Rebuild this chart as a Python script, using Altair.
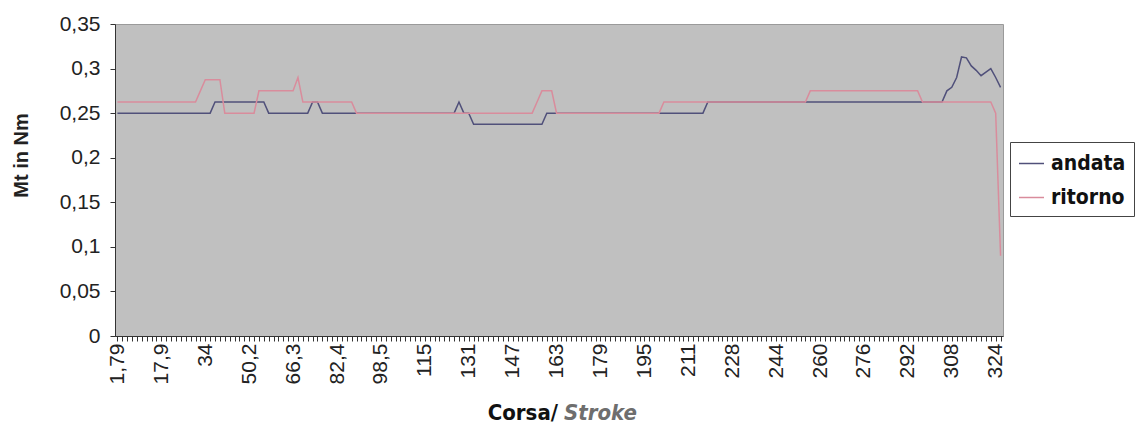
import json
import altair as alt
import pandas as pd

# Corsa index (category k -> stroke = 1.79 * k), 182 categories
N = 182

ANDATA = [
    0.25, 0.25, 0.25, 0.25, 0.25, 0.25, 0.25, 0.25, 0.25, 0.25,
    0.25, 0.25, 0.25, 0.25, 0.25, 0.25, 0.25, 0.25, 0.25, 0.25,
    0.2625, 0.2625, 0.2625, 0.2625, 0.2625, 0.2625, 0.2625, 0.2625, 0.2625, 0.2625,
    0.2625, 0.25, 0.25, 0.25, 0.25, 0.25, 0.25, 0.25, 0.25, 0.25,
    0.2625, 0.2625, 0.25, 0.25, 0.25, 0.25, 0.25, 0.25, 0.25, 0.25,
    0.25, 0.25, 0.25, 0.25, 0.25, 0.25, 0.25, 0.25, 0.25, 0.25,
    0.25, 0.25, 0.25, 0.25, 0.25, 0.25, 0.25, 0.25, 0.25, 0.25,
    0.2625, 0.25, 0.25, 0.2375, 0.2375, 0.2375, 0.2375, 0.2375, 0.2375, 0.2375,
    0.2375, 0.2375, 0.2375, 0.2375, 0.2375, 0.2375, 0.2375, 0.2375, 0.25, 0.25,
    0.25, 0.25, 0.25, 0.25, 0.25, 0.25, 0.25, 0.25, 0.25, 0.25,
    0.25, 0.25, 0.25, 0.25, 0.25, 0.25, 0.25, 0.25, 0.25, 0.25,
    0.25, 0.25, 0.25, 0.25, 0.25, 0.25, 0.25, 0.25, 0.25, 0.25,
    0.25, 0.2625, 0.2625, 0.2625, 0.2625, 0.2625, 0.2625, 0.2625, 0.2625, 0.2625,
    0.2625, 0.2625, 0.2625, 0.2625, 0.2625, 0.2625, 0.2625, 0.2625, 0.2625, 0.2625,
    0.2625, 0.2625, 0.2625, 0.2625, 0.2625, 0.2625, 0.2625, 0.2625, 0.2625, 0.2625,
    0.2625, 0.2625, 0.2625, 0.2625, 0.2625, 0.2625, 0.2625, 0.2625, 0.2625, 0.2625,
    0.2625, 0.2625, 0.2625, 0.2625, 0.2625, 0.2625, 0.2625, 0.2625, 0.2625, 0.2625,
    0.275, 0.279, 0.29, 0.313, 0.312, 0.303, 0.298, 0.292, 0.296, 0.300,
    0.290, 0.279,
]

RITORNO = [
    0.2625, 0.2625, 0.2625, 0.2625, 0.2625, 0.2625, 0.2625, 0.2625, 0.2625, 0.2625,
    0.2625, 0.2625, 0.2625, 0.2625, 0.2625, 0.2625, 0.2625, 0.275, 0.2875, 0.2875,
    0.2875, 0.2875, 0.25, 0.25, 0.25, 0.25, 0.25, 0.25, 0.25, 0.275,
    0.275, 0.275, 0.275, 0.275, 0.275, 0.275, 0.275, 0.29, 0.2625, 0.2625,
    0.2625, 0.2625, 0.2625, 0.2625, 0.2625, 0.2625, 0.2625, 0.2625, 0.2625, 0.25,
    0.25, 0.25, 0.25, 0.25, 0.25, 0.25, 0.25, 0.25, 0.25, 0.25,
    0.25, 0.25, 0.25, 0.25, 0.25, 0.25, 0.25, 0.25, 0.25, 0.25,
    0.25, 0.25, 0.25, 0.25, 0.25, 0.25, 0.25, 0.25, 0.25, 0.25,
    0.25, 0.25, 0.25, 0.25, 0.25, 0.25, 0.2625, 0.275, 0.275, 0.275,
    0.25, 0.25, 0.25, 0.25, 0.25, 0.25, 0.25, 0.25, 0.25, 0.25,
    0.25, 0.25, 0.25, 0.25, 0.25, 0.25, 0.25, 0.25, 0.25, 0.25,
    0.25, 0.25, 0.2625, 0.2625, 0.2625, 0.2625, 0.2625, 0.2625, 0.2625, 0.2625,
    0.2625, 0.2625, 0.2625, 0.2625, 0.2625, 0.2625, 0.2625, 0.2625, 0.2625, 0.2625,
    0.2625, 0.2625, 0.2625, 0.2625, 0.2625, 0.2625, 0.2625, 0.2625, 0.2625, 0.2625,
    0.2625, 0.2625, 0.275, 0.275, 0.275, 0.275, 0.275, 0.275, 0.275, 0.275,
    0.275, 0.275, 0.275, 0.275, 0.275, 0.275, 0.275, 0.275, 0.275, 0.275,
    0.275, 0.275, 0.275, 0.275, 0.275, 0.2625, 0.2625, 0.2625, 0.2625, 0.2625,
    0.2625, 0.2625, 0.2625, 0.2625, 0.2625, 0.2625, 0.2625, 0.2625, 0.2625, 0.2625,
    0.25, 0.09,
]

X_LABELS = ["1,79", "17,9", "34", "50,2", "66,3", "82,4", "98,5", "115", "131",
            "147", "163", "179", "195", "211", "228", "244", "260", "276",
            "292", "308", "324"]
LABEL_EVERY = 9

Y_TICKS = [0, 0.05, 0.1, 0.15, 0.2, 0.25, 0.3, 0.35]
Y_LABELS = ["0", "0,05", "0,1", "0,15", "0,2", "0,25", "0,3", "0,35"]

SERIES = ["andata", "ritorno"]
COLORS = ["#50507a", "#d98c9c"]

rows = []
for name, vals in zip(SERIES, [ANDATA, RITORNO]):
    for i, v in enumerate(vals):
        rows.append({"k": i + 1, "serie": name, "mt": v})
df = pd.DataFrame(rows)

x_label_expr = (
    f"(datum.value - 1) % {LABEL_EVERY} == 0 ? "
    f"{json.dumps(X_LABELS)}[(datum.value - 1) / {LABEL_EVERY}] : ''"
)
y_label_expr = f"{json.dumps(Y_LABELS)}[round(datum.value / 0.05)]"

AXIS_FONT = "Liberation Sans, Arial, sans-serif"
BOLD_FONT = "DejaVu Sans Condensed, Liberation Sans Narrow, sans-serif"

W, H = 888, 312

lines = alt.Chart(df).mark_line(strokeWidth=1.5, interpolate="linear").encode(
    x=alt.X(
        "k:O",
        scale=alt.Scale(type="point", padding=0.5),
        axis=alt.Axis(
            title="",
            labelExpr=x_label_expr,
            labelAngle=-90,
            labelOverlap=False,
            labelFont=AXIS_FONT,
            labelFontSize=21,
            labelColor="#222222",
            labelPadding=2,
            tickSize=5,
            tickColor="#333333",
            domainColor="#333333",
            grid=False,
        ),
    ),
    y=alt.Y(
        "mt:Q",
        scale=alt.Scale(domain=[0, 0.35], nice=False),
        axis=alt.Axis(
            title="Mt in Nm",
            values=Y_TICKS,
            labelExpr=y_label_expr,
            labelFont=AXIS_FONT,
            labelFontSize=21,
            labelColor="#222222",
            labelPadding=10,
            tickSize=5,
            tickColor="#333333",
            domainColor="#333333",
            grid=False,
            titleFont=AXIS_FONT,
            titleFontSize=20,
            titleFontWeight="bold",
            titleColor="#222222",
            titleX=-94,
            titleY=H / 2 - 25,
            titleAngle=-90,
            titleAlign="center",
            titleBaseline="middle",
        ),
    ),
    color=alt.Color(
        "serie:N",
        scale=alt.Scale(domain=SERIES, range=COLORS),
        legend=alt.Legend(
            title=None,
            orient="none",
            legendX=895,
            legendY=118,
            strokeColor="#444444",
            fillColor="white",
            padding=8,
            symbolType="stroke",
            symbolSize=625,
            symbolStrokeWidth=1.5,
            labelFont=BOLD_FONT,
            labelFontSize=21,
            labelFontWeight="bold",
            labelColor="#111111",
            rowPadding=10,
            labelOffset=6,
        ),
    ),
)

t1 = alt.Chart(pd.DataFrame({"t": ["Corsa/"]})).mark_text(
    font=BOLD_FONT, fontSize=22, fontWeight="bold", color="#111111",
    align="right", baseline="alphabetic",
).encode(x=alt.value(443), y=alt.value(396), text="t:N")

t2 = alt.Chart(pd.DataFrame({"t": ["Stroke"]})).mark_text(
    font=BOLD_FONT, fontSize=22, fontWeight="bold", fontStyle="italic",
    color="#6e6e6e", align="left", baseline="alphabetic",
).encode(x=alt.value(449), y=alt.value(396), text="t:N")

chart = alt.layer(lines, t1, t2).properties(
    width=W,
    height=H,
    autosize=alt.AutoSizeParams(type="none"),
    padding={"left": 107, "top": 16, "right": 136, "bottom": 93},
).configure(
    background="white",
).configure_view(
    fill="#c0c0c0",
    stroke="#9a9a9a",
)

chart.save("out.html", embed_options={"renderer": "svg", "actions": False})
